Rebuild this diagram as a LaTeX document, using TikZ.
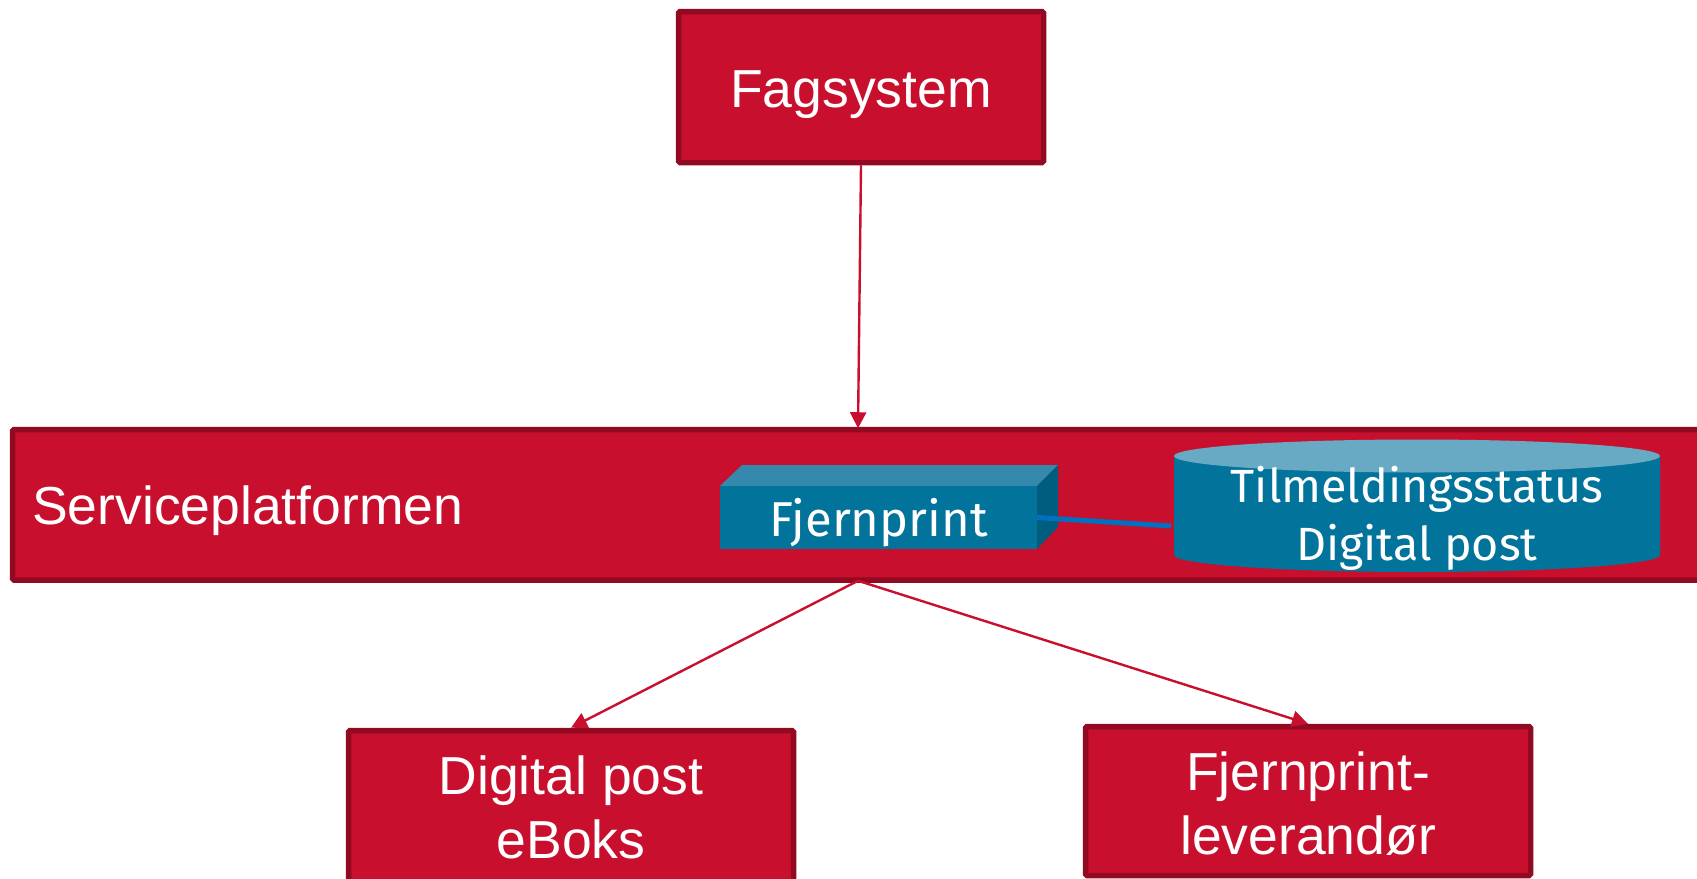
\documentclass[tikz,border=0pt]{standalone}
\usepackage{fontspec}
\setmainfont{Liberation Sans}
\newfontfamily\blockfont{Fira Sans}
\usetikzlibrary{arrows.meta}
\definecolor{redfill}{HTML}{C8102E}
\definecolor{redline}{HTML}{920A21}
\definecolor{tealfront}{HTML}{02739B}
\definecolor{tealtop}{HTML}{3589AD}
\definecolor{tealside}{HTML}{005D80}
\definecolor{tealcap}{HTML}{68A9C3}
\definecolor{linkblue}{HTML}{0070C0}
\tikzset{
  redbox/.style={rectangle,draw=redline,fill=redfill,line width=5.5pt,rounded corners=1.5pt,
    text=white,align=center,inner sep=0pt,font=\fontsize{53.5pt}{64pt}\selectfont},
  arrowline/.style={draw=redfill,line width=2.4pt,-{Triangle[length=16pt,width=16pt]}},
  blocktext/.style={text=white,align=center,inner sep=0pt,font=\fontsize{46.6pt}{58pt}\selectfont\blockfont}
}
\begin{document}
\begin{tikzpicture}[x=1pt,y=-1pt]
\clip (0,0) rectangle (1697,878);
\fill[white] (0,0) rectangle (1697,878);
% boxes
\node[redbox,minimum width=365pt,minimum height=151pt,text height=40pt,text depth=0pt] (fag) at (861,87) {Fagsystem};
\node[redbox,minimum width=1691pt,minimum height=150.5pt] (plat) at (858,504.75) {};
\node[text=white,inner sep=0pt,anchor=base west,font=\fontsize{53.5pt}{64pt}\selectfont] (platlabel) at (32,524) {Serviceplatformen};
\node[redbox,minimum width=445pt,minimum height=154pt] (digital) at (571,807.5) {Digital post\\eBoks};
\node[redbox,minimum width=445pt,minimum height=149pt] (lev) at (1308,801) {\rule{0pt}{43pt}Fjernprint-\\leverandør};
% cuboid
\fill[tealtop] (720,486) -- (742,465) -- (1058,465) -- (1037,486) -- cycle;
\fill[tealside] (1037,486) -- (1058,465) -- (1058,527) -- (1037,549) -- cycle;
\node[rectangle,fill=tealfront,minimum width=317pt,minimum height=63pt,text=white,inner sep=0pt,
  text height=37pt,text depth=0pt,font=\fontsize{49pt}{58pt}\selectfont\blockfont] (fjern) at (878.5,517.5) {Fjernprint};
% cylinder
\fill[tealfront] (1174,456) -- (1174,555) arc[start angle=180,end angle=360,x radius=243,y radius=-17] -- (1660,456) -- cycle;
\fill[tealcap] (1417,456) ellipse[x radius=243,y radius=16.5];
\node[blocktext] (status) at (1417,518) {Tilmeldingsstatus\\Digital post};
% connectors
\coordinate (statusport) at (1171,526);
\draw[linkblue,line width=5pt] (fjern.east) -- (statusport);
\draw[arrowline] (fag.south) -- ([yshift=-1.5pt]plat.north);
\draw[arrowline] ([yshift=2pt]plat.south) -- (digital.north);
\draw[arrowline] ([yshift=2pt]plat.south) -- (lev.north);
\end{tikzpicture}
\end{document}
